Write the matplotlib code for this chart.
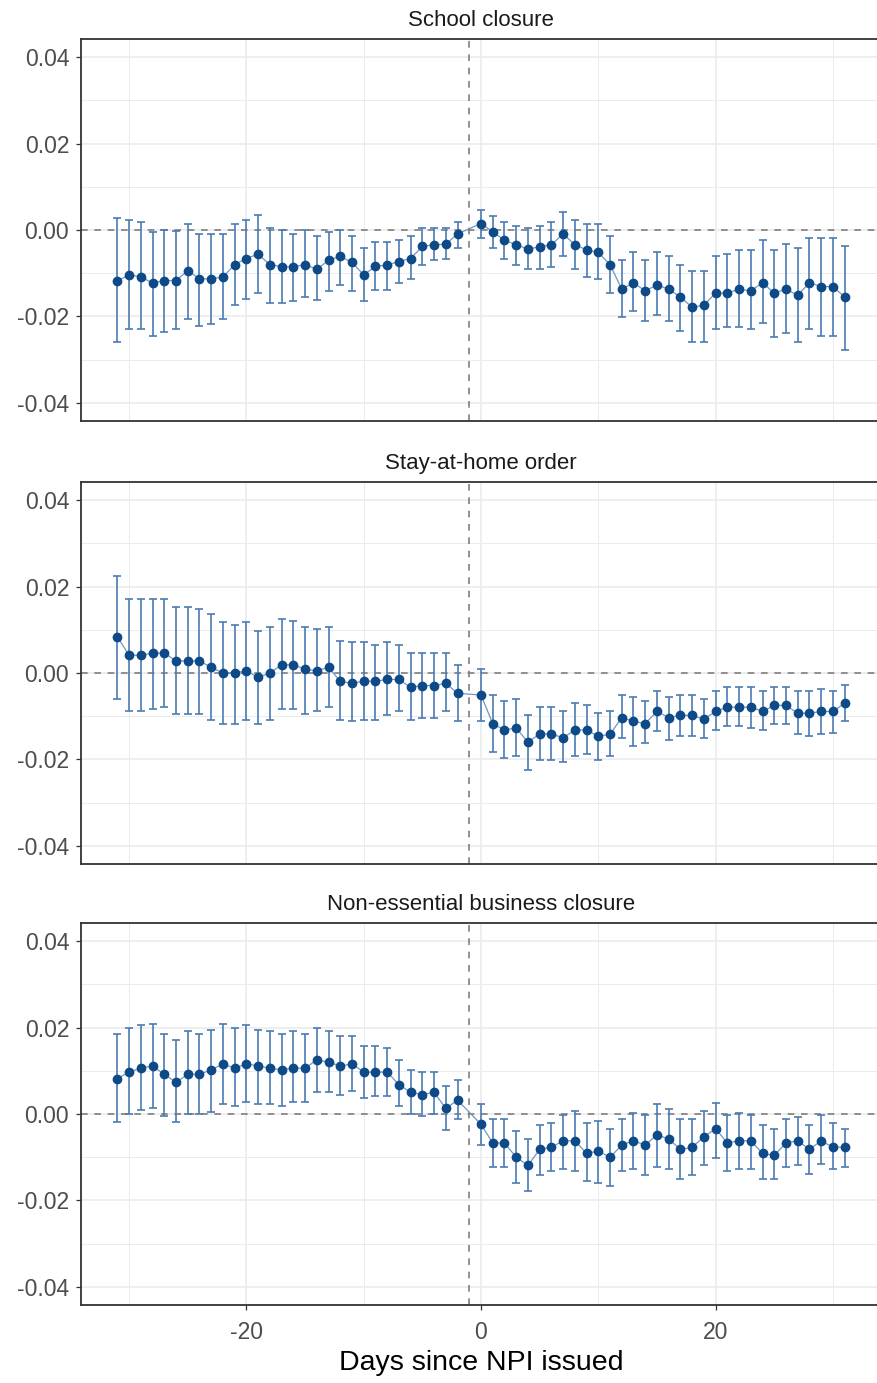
import numpy as np
import matplotlib
matplotlib.use("Agg")
import matplotlib.pyplot as plt
from matplotlib.ticker import FixedLocator

plt.rcParams['font.family'] = ['Liberation Sans', 'DejaVu Sans']
plt.rcParams['axes.unicode_minus'] = False

# days relative to NPI issue date (day -1 is the reference and is left out)
days = list(range(-31, -1)) + list(range(0, 32))

titles = ["School closure", "Stay-at-home order", "Non-essential business closure"]

# School closure
school_est = [-0.0118, -0.0104, -0.0108, -0.0123, -0.0117, -0.0117, -0.0094, -0.0113, -0.0113, -0.0109,
              -0.0080, -0.0066, -0.0056, -0.0080, -0.0085, -0.0085, -0.0080, -0.0091, -0.0070, -0.0061,
              -0.0075, -0.0104, -0.0084, -0.0081, -0.0073, -0.0066, -0.0038, -0.0034, -0.0033, -0.0009,
              0.0015, -0.0004, -0.0024, -0.0034, -0.0044, -0.0039, -0.0034, -0.0009, -0.0034, -0.0046,
              -0.0052, -0.0080, -0.0137, -0.0122, -0.0141, -0.0127, -0.0137, -0.0155, -0.0179, -0.0174,
              -0.0146, -0.0146, -0.0137, -0.0141, -0.0122, -0.0146, -0.0137, -0.0151, -0.0122, -0.0131,
              -0.0131, -0.0155]
school_hi = [0.0028, 0.0024, 0.0019, -0.0004, 0.0000, -0.0002, 0.0015, -0.0009, -0.0009, -0.0009,
             0.0015, 0.0024, 0.0034, 0.0005, 0.0000, -0.0009, 0.0000, -0.0014, -0.0005, 0.0000,
             -0.0013, -0.0041, -0.0027, -0.0027, -0.0023, -0.0014, 0.0004, 0.0004, 0.0004, 0.0019,
             0.0046, 0.0033, 0.0019, 0.0009, 0.0004, 0.0009, 0.0019, 0.0042, 0.0023, 0.0014,
             0.0014, -0.0015, -0.0070, -0.0052, -0.0070, -0.0052, -0.0061, -0.0080, -0.0094, -0.0094,
             -0.0061, -0.0056, -0.0047, -0.0047, -0.0023, -0.0047, -0.0033, -0.0042, -0.0019, -0.0019,
             -0.0019, -0.0038]
school_lo = [-0.0259, -0.0230, -0.0230, -0.0245, -0.0235, -0.0230, -0.0206, -0.0221, -0.0217, -0.0205,
             -0.0174, -0.0159, -0.0145, -0.0170, -0.0170, -0.0164, -0.0155, -0.0161, -0.0141, -0.0127,
             -0.0141, -0.0165, -0.0139, -0.0138, -0.0122, -0.0113, -0.0080, -0.0070, -0.0066, -0.0042,
             -0.0019, -0.0042, -0.0066, -0.0080, -0.0090, -0.0090, -0.0085, -0.0061, -0.0090, -0.0108,
             -0.0113, -0.0145, -0.0202, -0.0188, -0.0211, -0.0197, -0.0211, -0.0234, -0.0259, -0.0259,
             -0.0230, -0.0225, -0.0225, -0.0230, -0.0215, -0.0248, -0.0239, -0.0259, -0.0230, -0.0245,
             -0.0245, -0.0277]

# Stay-at-home order
home_est = [0.0084, 0.0041, 0.0041, 0.0046, 0.0046, 0.0028, 0.0028, 0.0028, 0.0013, 0.0000,
            0.0000, 0.0005, -0.0010, 0.0000, 0.0019, 0.0019, 0.0009, 0.0005, 0.0013, -0.0019,
            -0.0024, -0.0019, -0.0019, -0.0015, -0.0015, -0.0033, -0.0029, -0.0029, -0.0024, -0.0047,
            -0.0051, -0.0117, -0.0132, -0.0127, -0.0160, -0.0141, -0.0141, -0.0150, -0.0132, -0.0132,
            -0.0146, -0.0142, -0.0103, -0.0112, -0.0117, -0.0089, -0.0103, -0.0098, -0.0098, -0.0107,
            -0.0089, -0.0079, -0.0079, -0.0079, -0.0089, -0.0075, -0.0075, -0.0093, -0.0093, -0.0089,
            -0.0089, -0.0070]
home_hi = [0.0225, 0.0172, 0.0172, 0.0172, 0.0172, 0.0153, 0.0153, 0.0149, 0.0136, 0.0117,
           0.0112, 0.0117, 0.0098, 0.0107, 0.0126, 0.0121, 0.0107, 0.0102, 0.0107, 0.0074,
           0.0071, 0.0071, 0.0065, 0.0071, 0.0065, 0.0047, 0.0047, 0.0047, 0.0047, 0.0019,
           0.0009, -0.0051, -0.0065, -0.0061, -0.0098, -0.0079, -0.0079, -0.0089, -0.0070, -0.0075,
           -0.0093, -0.0089, -0.0051, -0.0056, -0.0065, -0.0042, -0.0056, -0.0051, -0.0051, -0.0061,
           -0.0042, -0.0033, -0.0033, -0.0033, -0.0042, -0.0033, -0.0033, -0.0042, -0.0042, -0.0037,
           -0.0042, -0.0027]
home_lo = [-0.0060, -0.0089, -0.0089, -0.0084, -0.0079, -0.0094, -0.0094, -0.0094, -0.0108, -0.0117,
           -0.0117, -0.0108, -0.0117, -0.0108, -0.0084, -0.0084, -0.0094, -0.0089, -0.0079, -0.0108,
           -0.0112, -0.0108, -0.0108, -0.0098, -0.0089, -0.0108, -0.0103, -0.0103, -0.0089, -0.0112,
           -0.0111, -0.0182, -0.0196, -0.0191, -0.0224, -0.0201, -0.0201, -0.0205, -0.0191, -0.0187,
           -0.0201, -0.0191, -0.0150, -0.0168, -0.0163, -0.0135, -0.0155, -0.0146, -0.0146, -0.0150,
           -0.0132, -0.0123, -0.0123, -0.0127, -0.0132, -0.0117, -0.0117, -0.0141, -0.0146, -0.0141,
           -0.0139, -0.0111]

# Non-essential business closure
biz_est = [0.0082, 0.0097, 0.0106, 0.0111, 0.0092, 0.0073, 0.0092, 0.0092, 0.0102, 0.0116,
           0.0106, 0.0116, 0.0111, 0.0106, 0.0102, 0.0106, 0.0106, 0.0125, 0.0120, 0.0111,
           0.0116, 0.0097, 0.0097, 0.0097, 0.0068, 0.0050, 0.0045, 0.0050, 0.0013, 0.0032,
           -0.0024, -0.0067, -0.0067, -0.0100, -0.0119, -0.0082, -0.0077, -0.0062, -0.0062, -0.0091,
           -0.0086, -0.0100, -0.0072, -0.0062, -0.0072, -0.0048, -0.0058, -0.0082, -0.0077, -0.0053,
           -0.0034, -0.0067, -0.0062, -0.0062, -0.0091, -0.0096, -0.0067, -0.0062, -0.0082, -0.0062,
           -0.0077, -0.0077]
biz_hi = [0.0186, 0.0200, 0.0205, 0.0209, 0.0186, 0.0172, 0.0191, 0.0186, 0.0195, 0.0209,
          0.0200, 0.0205, 0.0195, 0.0191, 0.0186, 0.0191, 0.0186, 0.0200, 0.0191, 0.0181,
          0.0181, 0.0157, 0.0157, 0.0153, 0.0125, 0.0102, 0.0097, 0.0097, 0.0064, 0.0078,
          0.0023, -0.0011, -0.0011, -0.0039, -0.0058, -0.0025, -0.0020, -0.0002, 0.0008, -0.0020,
          -0.0016, -0.0034, -0.0011, 0.0003, -0.0002, 0.0023, 0.0012, -0.0011, -0.0011, 0.0008,
          0.0026, -0.0002, 0.0003, -0.0002, -0.0025, -0.0034, -0.0011, -0.0006, -0.0025, -0.0002,
          -0.0020, -0.0034]
biz_lo = [-0.0019, 0.0000, 0.0010, 0.0013, -0.0005, -0.0019, 0.0000, 0.0000, 0.0005, 0.0022,
          0.0018, 0.0027, 0.0022, 0.0022, 0.0018, 0.0027, 0.0027, 0.0050, 0.0050, 0.0045,
          0.0054, 0.0036, 0.0041, 0.0041, 0.0018, 0.0000, -0.0005, 0.0000, -0.0038, -0.0011,
          -0.0072, -0.0123, -0.0123, -0.0160, -0.0179, -0.0142, -0.0132, -0.0128, -0.0132, -0.0156,
          -0.0160, -0.0167, -0.0132, -0.0128, -0.0142, -0.0123, -0.0128, -0.0151, -0.0142, -0.0118,
          -0.0101, -0.0132, -0.0128, -0.0128, -0.0151, -0.0151, -0.0123, -0.0118, -0.0139, -0.0115,
          -0.0128, -0.0123]

panels = [(school_est, school_lo, school_hi),
          (home_est, home_lo, home_hi),
          (biz_est, biz_lo, biz_hi)]

fig = plt.figure(figsize=(8.78, 13.83), dpi=100)
W, H = 878.0, 1383.0
tops = [39, 482, 923]
panel_h = 382

for i, (est, lo, hi) in enumerate(panels):
    top = tops[i]
    ax = fig.add_axes([81 / W, 1 - (top + panel_h) / H, 800 / W, panel_h / H])
    est = np.array(est)
    yerr = [est - np.array(lo), np.array(hi) - est]

    ax.axhline(0, color='#7f7f7f', linestyle=(0, (4, 4)), linewidth=1.2, zorder=1)
    ax.axvline(-1, color='#7f7f7f', linestyle=(0, (4, 4)), linewidth=1.2, zorder=1)
    ax.plot(days, est, color='#6f97c4', linewidth=0.9, zorder=2)
    ax.errorbar(days, est, yerr=yerr, fmt='none', ecolor='#4a7bb2', alpha=0.85,
                elinewidth=1.4, capsize=2.8, capthick=1.4, zorder=3)
    ax.plot(days, est, 'o', color='#0d4a87', markersize=6, zorder=4)

    ax.set_xlim(-34.1, 34.1)
    ax.set_ylim(-0.0442, 0.0442)
    ax.set_yticks([-0.04, -0.02, 0.0, 0.02, 0.04])
    ax.set_yticklabels(['-0.04', '-0.02', '0.00', '0.02', '0.04'])
    ax.set_xticks([-20, 0, 20])
    ax.set_xticklabels(['-20', '0', '20'])
    ax.xaxis.set_minor_locator(FixedLocator([-30, -10, 10, 30]))
    ax.yaxis.set_minor_locator(FixedLocator([-0.03, -0.01, 0.01, 0.03]))

    ax.grid(which='major', color='#ebebeb', linewidth=1.2)
    ax.grid(which='minor', color='#ebebeb', linewidth=0.7)
    ax.set_axisbelow(True)
    ax.tick_params(axis='both', which='minor', length=0)
    ax.tick_params(axis='both', which='major', length=3.5, width=0.9, color='#333333',
                   labelsize=16.5, labelcolor='#4d4d4d', pad=5)
    if i < 2:
        ax.tick_params(axis='x', which='major', length=0, labelbottom=False)
    else:
        ax.tick_params(axis='x', which='major', pad=8)
    for s in ax.spines.values():
        s.set_color('#333333')
        s.set_linewidth(1.3)

    fig.text((81 + 881) / 2 / W, 1 - (top - 19) / H, titles[i], ha='center', va='center',
             fontsize=16, color='#1a1a1a')

fig.text((81 + 881) / 2 / W, 1 - 1363 / H, 'Days since NPI issued', ha='center', va='center',
         fontsize=20.5, color='black')

fig.savefig('out.png', dpi=100)
